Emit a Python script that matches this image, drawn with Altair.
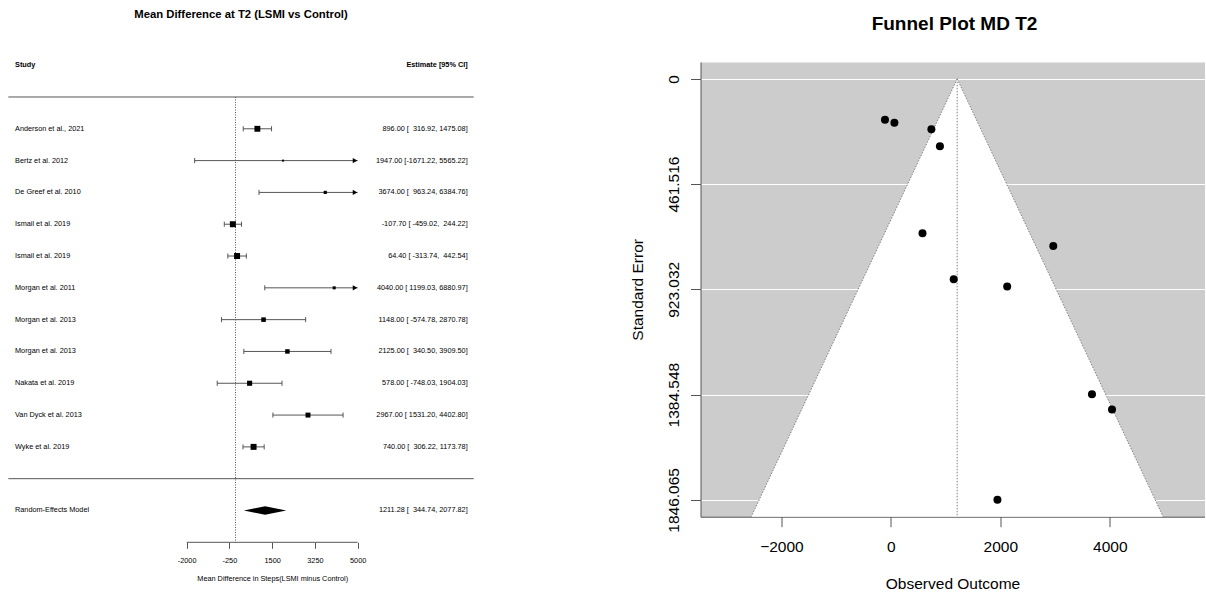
import altair as alt
import pandas as pd

FONT = "Liberation Sans"

# ---------------------------------------------------------------------------
# Study-level results: mean difference in daily steps at T2 (LSMI - Control)
# ---------------------------------------------------------------------------
studies = [
    "Anderson et al., 2021", "Bertz et al. 2012", "De Greef et al. 2010",
    "Ismail et al. 2019", "Ismail et al. 2019", "Morgan et al. 2011",
    "Morgan et al. 2013", "Morgan et al. 2013", "Nakata et al. 2019",
    "Van Dyck et al. 2013", "Wyke et al. 2019",
]
estimates = [896.00, 1947.00, 3674.00, -107.70, 64.40, 4040.00,
             1148.00, 2125.00, 578.00, 2967.00, 740.00]
ci_lower = [316.92, -1671.22, 963.24, -459.02, -313.74, 1199.03,
            -574.78, 340.50, -748.03, 1531.20, 306.22]
ci_upper = [1475.08, 5565.22, 6384.76, 244.22, 442.54, 6880.97,
            2870.78, 3909.50, 1904.03, 4402.80, 1173.78]
# random-effects weights (%), used for the square sizes
re_weights = [12.1, 3.9, 5.6, 12.5, 12.5, 5.3, 8.4, 8.2, 9.8, 9.4, 12.4]
# standard errors (funnel plot vertical axis)
std_errors = [295.45, 1846.065, 1383.04, 179.40, 192.93, 1449.47,
              878.97, 910.46, 676.55, 732.55, 221.32]

# pooled random-effects estimate
pooled_est = 1211.28
pooled_lower = 344.74
pooled_upper = 2077.82

forest_ticks = [-2000, -250, 1500, 3250, 5000]
se_ticks = [0, 461.516, 923.032, 1384.548, 1846.065]
outcome_ticks = [-2000, 0, 2000, 4000]

# ---------------------------------------------------------------------------
# Forest plot
# ---------------------------------------------------------------------------
LINE = "#555555"
TXT = 7.3
FOREST_XDOMAIN = [-9600, 10050]
TEXT_LEFT, TEXT_RIGHT = -9300, 9750
ROW_DOMAIN = [-2, 13.1]
CAP = 0.08          # half height of whisker caps (rows)
DIAMOND = 0.135     # half height of the summary diamond (rows)

k = len(studies)
fd = pd.DataFrame({
    "study": studies, "est": estimates, "lo": ci_lower, "hi": ci_upper,
    "w": re_weights, "row": list(range(k, 0, -1)),
})
alim_lo, alim_hi = forest_ticks[0], forest_ticks[-1]
fd["lo_c"] = fd["lo"].clip(lower=alim_lo)
fd["hi_c"] = fd["hi"].clip(upper=alim_hi)

w_est = max(len(f"{v:.2f}") for v in estimates + [pooled_est])
w_lo = max(len(f"{v:.2f}") for v in ci_lower + [pooled_lower])
w_hi = max(len(f"{v:.2f}") for v in ci_upper + [pooled_upper])


def annot(e, lo, hi):
    s = f"{e:{w_est}.2f} [{lo:{w_lo}.2f}, {hi:{w_hi}.2f}]"
    return s.strip().replace(" ", "\u00a0")


fd["label"] = [annot(e, l, h) for e, l, h in zip(fd.est, fd.lo, fd.hi)]
fd["xl"] = TEXT_LEFT
fd["xr"] = TEXT_RIGHT

fx = alt.Scale(domain=FOREST_XDOMAIN, nice=False, zero=False)
fy = alt.Scale(domain=ROW_DOMAIN, nice=False, zero=False)

forest_axis = alt.Axis(
    values=forest_ticks, labelExpr="'' + datum.value", domain=False, grid=False,
    tickSize=6, tickColor=LINE, tickWidth=1, labelFont=FONT, labelFontSize=TXT,
    labelColor="black", labelPadding=8.6, labelFlush=False, labelOverlap=False,
    title="Mean Difference in Steps(LSMI minus Control)", titleFont=FONT,
    titleFontSize=TXT, titleFontWeight="normal", titleColor="black",
    titlePadding=10, titleX=271.2, titleAlign="center",
)


def fxe(field):
    return alt.X(field, type="quantitative", scale=fx, axis=forest_axis)


def fye(field):
    return alt.Y(field, type="quantitative", scale=fy, axis=None)


separators = alt.Chart(pd.DataFrame({
    "row": [k + 1, 0], "x0": [TEXT_LEFT] * 2, "x1": [TEXT_RIGHT] * 2,
})).mark_rule(color=LINE, strokeWidth=1).encode(x=fxe("x0"), x2="x1", y=fye("row"))

axis_line = alt.Chart(pd.DataFrame({
    "x0": [alim_lo], "x1": [alim_hi], "row": [ROW_DOMAIN[0]],
})).mark_rule(color=LINE, strokeWidth=1).encode(x=fxe("x0"), x2="x1", y=fye("row"))

ref_line = alt.Chart(pd.DataFrame({
    "x": [0], "top": [k + 1], "bottom": [ROW_DOMAIN[0]],
})).mark_rule(color=LINE, strokeWidth=1, strokeDash=[1, 1.5]).encode(
    x=fxe("x"), y=fye("top"), y2="bottom")

ci_lines = alt.Chart(fd).mark_rule(color=LINE, strokeWidth=1).encode(
    x=fxe("lo_c"), x2="hi_c", y=fye("row"))

cap_rows = []
for r, lo, hi, lc, hc in zip(fd.row, fd.lo, fd.hi, fd.lo_c, fd.hi_c):
    if lo >= alim_lo:
        cap_rows.append({"x": lc, "top": r + CAP, "bottom": r - CAP})
    if hi <= alim_hi:
        cap_rows.append({"x": hc, "top": r + CAP, "bottom": r - CAP})
caps = alt.Chart(pd.DataFrame(cap_rows)).mark_rule(color=LINE, strokeWidth=1).encode(
    x=fxe("x"), y=fye("top"), y2="bottom")

arrow_df = fd.loc[fd.hi > alim_hi, ["row"]].assign(x=alim_hi)
arrows = alt.Chart(arrow_df).mark_point(
    shape="triangle-right", filled=True, color="black", opacity=1, size=28, xOffset=-2.6
).encode(x=fxe("x"), y=fye("row"))

squares = alt.Chart(fd).mark_square(color="black", opacity=1).encode(
    x=fxe("est"), y=fye("row"),
    size=alt.Size("w:Q", scale=alt.Scale(domain=[min(re_weights), max(re_weights)],
                                         range=[4, 36]), legend=None),
)

study_text = alt.Chart(fd).mark_text(
    align="left", baseline="middle", dx=6.7, font=FONT, fontSize=TXT, color="black"
).encode(x=fxe("xl"), y=fye("row"), text="study:N")

est_text = alt.Chart(fd).mark_text(
    align="right", baseline="middle", dx=-6, font=FONT, fontSize=TXT, color="black"
).encode(x=fxe("xr"), y=fye("row"), text="label:N")

header_df = pd.DataFrame({
    "x": [TEXT_LEFT, TEXT_RIGHT], "row": [k + 2] * 2,
    "text": ["Study", "Estimate [95% CI]"],
})
header_left = alt.Chart(header_df.iloc[[0]]).mark_text(
    align="left", baseline="middle", dx=6.7, font=FONT, fontSize=TXT,
    fontWeight="bold", color="black",
).encode(x=fxe("x"), y=fye("row"), text="text:N")
header_right = alt.Chart(header_df.iloc[[1]]).mark_text(
    align="right", baseline="middle", dx=-6, font=FONT, fontSize=TXT,
    fontWeight="bold", color="black",
).encode(x=fxe("x"), y=fye("row"), text="text:N")

re_df = pd.DataFrame({
    "name": ["Random-Effects Model"], "row": [-1], "xl": [TEXT_LEFT], "xr": [TEXT_RIGHT],
    "label": [annot(pooled_est, pooled_lower, pooled_upper)],
})
re_name = alt.Chart(re_df).mark_text(
    align="left", baseline="middle", dx=6.7, font=FONT, fontSize=TXT, color="black"
).encode(x=fxe("xl"), y=fye("row"), text="name:N")
re_label = alt.Chart(re_df).mark_text(
    align="right", baseline="middle", dx=-6, font=FONT, fontSize=TXT, color="black"
).encode(x=fxe("xr"), y=fye("row"), text="label:N")

diamond_df = pd.DataFrame({
    "x": [pooled_lower, pooled_est, pooled_upper],
    "top": [-1, -1 + DIAMOND, -1],
    "bottom": [-1, -1 - DIAMOND, -1],
})
diamond = alt.Chart(diamond_df).mark_area(orient="vertical", color="black", opacity=1).encode(
    x=fxe("x"), y=fye("top"), y2="bottom")

forest = alt.layer(
    separators, axis_line, ref_line, ci_lines, caps, arrows, squares,
    study_text, est_text, header_left, header_right, re_name, re_label, diamond,
).properties(
    width=480, height=480.3,
    title=alt.TitleParams(
        "Mean Difference at T2 (LSMI vs Control)", font=FONT, fontSize=11.3,
        fontWeight="bold", color="black", anchor="middle", offset=41,
    ),
)

# ---------------------------------------------------------------------------
# Funnel plot
# ---------------------------------------------------------------------------
AX = "#555555"
FS = 15.5
se_max = se_ticks[-1]
se_pad = 0.04 * se_max
Y_DOMAIN = [-se_pad, se_max + se_pad]
X_DOMAIN = [-3478, 5730]
Z = 1.96

ux = alt.Scale(domain=X_DOMAIN, nice=False, zero=False)
uy = alt.Scale(domain=Y_DOMAIN, reverse=True, nice=False, zero=False)

x_axis = alt.Axis(
    values=outcome_ticks, format="d", grid=False, domain=True, domainColor=AX,
    domainWidth=1, tickColor=AX, tickWidth=1, tickSize=10, labelFont=FONT,
    labelFontSize=FS, labelColor="black", labelPadding=12.7, labelFlush=False,
    title="Observed Outcome", titleFont=FONT, titleFontSize=FS,
    titleFontWeight="normal", titleColor="black", titlePadding=22,
)
y_axis = alt.Axis(
    values=se_ticks, labelExpr="'' + datum.value", grid=True, gridColor="white",
    gridWidth=1, domain=True, domainColor=AX, domainWidth=1, tickColor=AX,
    tickWidth=1, tickSize=10, labelFont=FONT, labelFontSize=FS, labelColor="black",
    labelAngle=270, labelAlign="center", labelBaseline="alphabetic",
    labelPadding=12.5, labelFlush=False, labelOverlap=False,
    title="Standard Error", titleFont=FONT, titleFontSize=FS,
    titleFontWeight="normal", titleColor="black", titlePadding=21,
)


def uxe(field):
    return alt.X(field, type="quantitative", scale=ux, axis=x_axis)


def uye(field):
    return alt.Y(field, type="quantitative", scale=uy, axis=y_axis)


funnel_se = [0, Y_DOMAIN[1]]
region_df = pd.DataFrame({
    "se": funnel_se,
    "lo": [pooled_est - Z * s for s in funnel_se],
    "hi": [pooled_est + Z * s for s in funnel_se],
})
region = alt.Chart(region_df).mark_area(orient="horizontal", color="white", opacity=1).encode(
    y=uye("se"), x=uxe("lo"), x2="hi")

edge_df = pd.DataFrame({
    "se": funnel_se * 2,
    "x": list(region_df.lo) + list(region_df.hi),
    "side": ["left"] * 2 + ["right"] * 2,
})
edges = alt.Chart(edge_df).mark_line(color="#808080", strokeWidth=1, strokeDash=[1.5, 1.5]).encode(
    x=uxe("x"), y=uye("se"), detail="side:N", order="se:Q")

center_df = pd.DataFrame({"x": [pooled_est], "top": [0], "bottom": [Y_DOMAIN[1]]})
center = alt.Chart(center_df).mark_rule(color="#808080", strokeWidth=1, strokeDash=[1.5, 1.5]).encode(
    x=uxe("x"), y=uye("top"), y2="bottom")

pts = alt.Chart(pd.DataFrame({"est": estimates, "se": std_errors})).mark_circle(
    size=64, color="black", opacity=1).encode(x=uxe("est"), y=uye("se"))

funnel = alt.layer(region, edges, center, pts).properties(
    width=504, height=454.7,
    view=alt.ViewBackground(fill="#cccccc", stroke="transparent"),
    title=alt.TitleParams(
        "Funnel Plot MD T2", font=FONT, fontSize=19, fontWeight="bold",
        color="black", anchor="middle", offset=28.2, dx=2,
    ),
)

chart = alt.hconcat(forest, funnel, spacing=147.5).properties(
    padding={"left": 0, "right": 0, "top": 8, "bottom": 0},
    background="white",
).configure_view(stroke="transparent")

chart.save("out.html", embed_options={"renderer": "svg", "actions": False})
